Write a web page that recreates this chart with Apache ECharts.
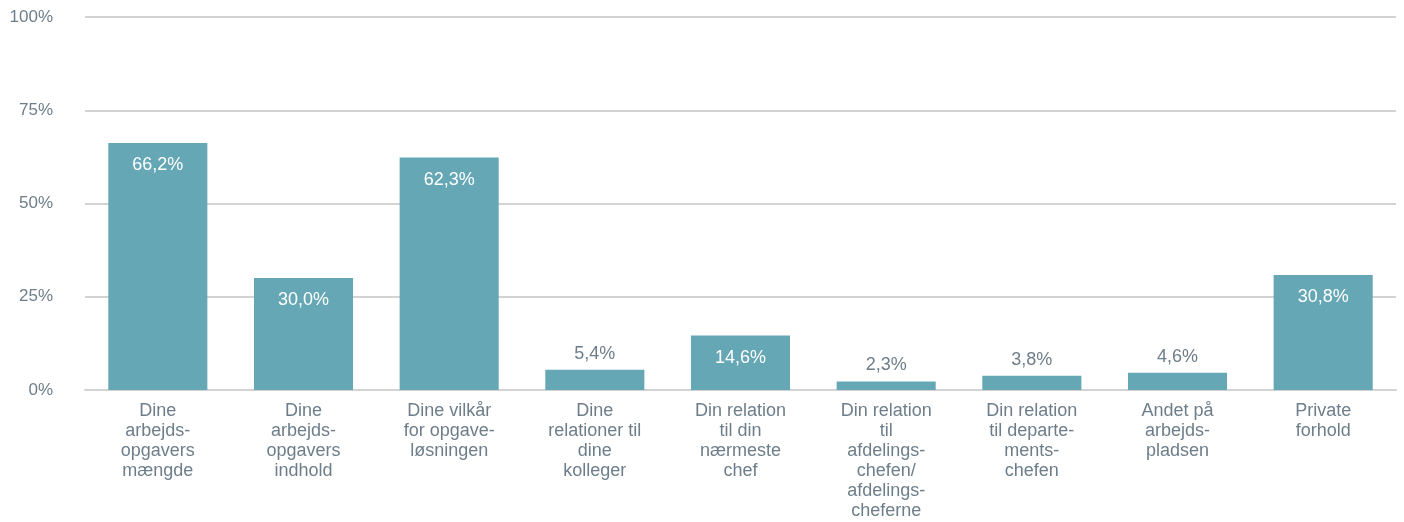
<!DOCTYPE html>
<html>
<head>
<meta charset="utf-8">
<script src="https://cdn.jsdelivr.net/npm/echarts@6/dist/echarts.min.js"></script>
<style>
  html, body { margin: 0; padding: 0; background: #ffffff; }
  #chart { width: 1404px; height: 522px; }
</style>
</head>
<body>
<div id="chart"></div>
<script>
// Categories (line breaks as they appear under each bar)
const categories = [
  'Dine\narbejds-\nopgavers\nmængde',
  'Dine\narbejds-\nopgavers\nindhold',
  'Dine vilkår\nfor opgave-\nløsningen',
  'Dine\nrelationer til\ndine\nkolleger',
  'Din relation\ntil din\nnærmeste\nchef',
  'Din relation\ntil\nafdelings-\nchefen/\nafdelings-\ncheferne',
  'Din relation\ntil departe-\nments-\nchefen',
  'Andet på\narbejds-\npladsen',
  'Private\nforhold'
];

// Share of respondents, percent
const values = [66.2, 30.0, 62.3, 5.4, 14.6, 2.3, 3.8, 4.6, 30.8];

// Y axis ticks
const yTicks = [0, 25, 50, 75, 100];

const FONT = '"Liberation Sans", Arial, sans-serif';
const TEXT = '#6d7e8a';
const BAR = '#65a7b4';
const GRID = '#d3d3d3';

const fmt = v => v.toFixed(1).replace('.', ',') + '%';

// Short bars carry their label above, taller ones inside the top
const seriesData = values.map(v => ({
  value: v,
  label: v < 10
    ? { position: 'top', distance: 7, color: TEXT }
    : { position: 'insideTop', distance: 13, color: '#ffffff' }
}));

const chart = echarts.init(document.getElementById('chart'), null, { renderer: 'canvas' });

chart.setOption({
  animation: false,
  backgroundColor: '#ffffff',
  textStyle: { fontFamily: FONT },
  grid: { left: 85, right: 8, top: 17, bottom: 132, containLabel: false },
  xAxis: {
    type: 'category',
    data: categories,
    axisLine: { show: true, lineStyle: { color: GRID, width: 2 } },
    axisTick: { show: false },
    axisLabel: {
      interval: 0,
      margin: 11,
      color: TEXT,
      fontFamily: FONT,
      fontSize: 18,
      lineHeight: 20,
      align: 'center',
      verticalAlign: 'top'
    }
  },
  yAxis: {
    type: 'value',
    min: yTicks[0],
    max: yTicks[yTicks.length - 1],
    interval: yTicks[1] - yTicks[0],
    axisLine: { show: false },
    axisTick: { show: false },
    splitLine: { show: true, lineStyle: { color: GRID, width: 2 } },
    axisLabel: {
      margin: 32,
      color: TEXT,
      fontFamily: FONT,
      fontSize: 17,
      formatter: v => v + '%'
    }
  },
  series: [{
    type: 'bar',
    data: seriesData,
    barWidth: '68%',
    itemStyle: { color: BAR },
    label: {
      show: true,
      fontFamily: FONT,
      fontSize: 18,
      formatter: p => fmt(p.value)
    }
  }]
});
</script>
</body>
</html>
